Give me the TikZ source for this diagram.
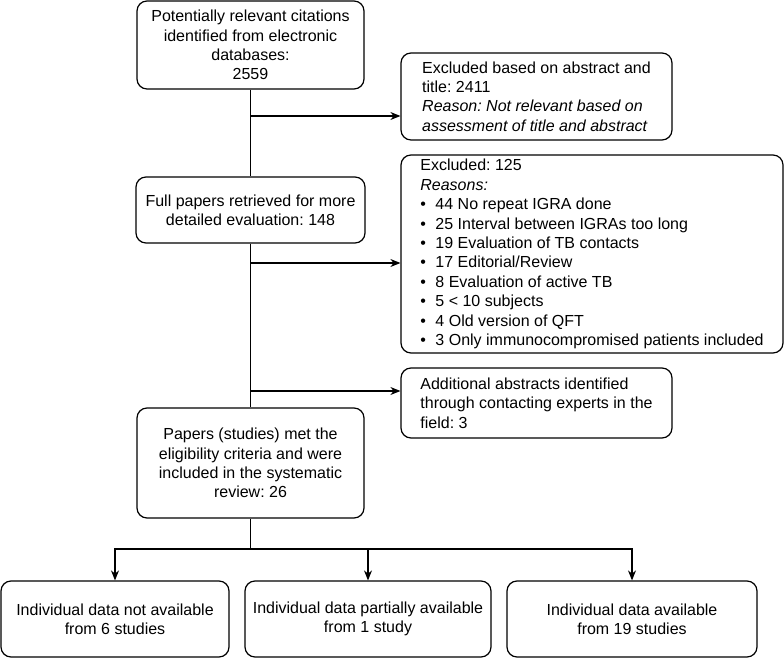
\documentclass[tikz,border=0pt]{standalone}
\usepackage{fontspec}
\setmainfont{Liberation Sans}
\usetikzlibrary{arrows.meta, positioning, calc}
\frenchspacing

\newcommand{\reasonitem}{\textbullet\hspace{9.5bp}}

\tikzset{
  flowbox/.style={draw, rounded corners=10bp, line width=1.2bp, inner xsep=4bp, inner ysep=3bp,
    font=\fontsize{16bp}{19.4bp}\selectfont},
  midbox/.style={flowbox, align=center},
  sidebox/.style={flowbox, align=left},
  flowline/.style={line width=1.2bp},
  flowarrow/.style={flowline, -{Stealth[length=10bp, width=8bp]}},
}

\begin{document}
\begin{tikzpicture}[x=1bp, y=1bp]
  \useasboundingbox (0,0) rectangle (784,658);

  % Main column
  \node[midbox, minimum width=227bp, minimum height=88bp] (cite) at (250.5,613) {
    Potentially relevant citations\\
    identified from electronic\\
    databases:\\
    2559};

  \node[midbox, minimum width=229bp, minimum height=66bp] (full) at (250.5,448) {
    Full papers retrieved for more\\
    detailed evaluation: 148};

  \node[midbox, minimum width=227bp, minimum height=110bp] (incl) at (250.5,195) {
    Papers (studies) met the\\
    eligibility criteria and were\\
    included in the systematic\\
    review: 26};

  % Side boxes
  \node[sidebox, minimum width=271bp, minimum height=87bp] (exabs) at (536.5,561.5) {
    Excluded based on abstract and\\
    title: 2411\\
    \textit{Reason: Not relevant based on}\\
    \textit{assessment of title and abstract}};

  \node[sidebox, minimum width=382bp, minimum height=198bp] (excl) at (592,404) {
    Excluded: 125\\
    \textit{Reasons:}\\
    \reasonitem 44 No repeat IGRA done\\
    \reasonitem 25 Interval between IGRAs too long\\
    \reasonitem 19 Evaluation of TB contacts\\
    \reasonitem 17 Editorial/Review\\
    \reasonitem 8 Evaluation of active TB\\
    \reasonitem 5 < 10 subjects\\
    \reasonitem 4 Old version of QFT\\
    \reasonitem 3 Only immunocompromised patients included};

  \node[sidebox, minimum width=271bp, minimum height=70bp] (extra) at (536.5,255) {
    Additional abstracts identified\\
    through contacting experts in the\\
    field: 3};

  % Bottom row
  \node[midbox, minimum width=228bp, minimum height=76bp] (noind) at (115,39) {
    Individual data not available\\
    from 6 studies};

  \node[midbox, minimum width=246bp, minimum height=76bp] (partial) at (368,39) {
    Individual data partially available\\
    from 1 study};

  \node[midbox, minimum width=250bp, minimum height=76bp] (allind) at (632,39) {
    Individual data available\\
    from 19 studies};

  % Connectors
  \coordinate (j1) at (250.5,542);
  \coordinate (j2) at (250.5,395);
  \coordinate (j3) at (250.5,267);
  \coordinate (split) at (250.5,109);

  \draw[flowline] (cite) -- (full);
  \draw[flowline] (full) -- (incl);
  \draw[flowarrow] (j1) -- (j1 -| exabs.west);
  \draw[flowarrow] (j2) -- (j2 -| excl.west);
  \draw[flowarrow] (j3) -- (j3 -| extra.west);

  \draw[flowline] (incl) -- (split);
  \draw[flowarrow] (split) -| (noind.north);
  \draw[flowarrow] (split) -| (partial.north);
  \draw[flowarrow] (split) -| (allind.north);
\end{tikzpicture}
\end{document}
